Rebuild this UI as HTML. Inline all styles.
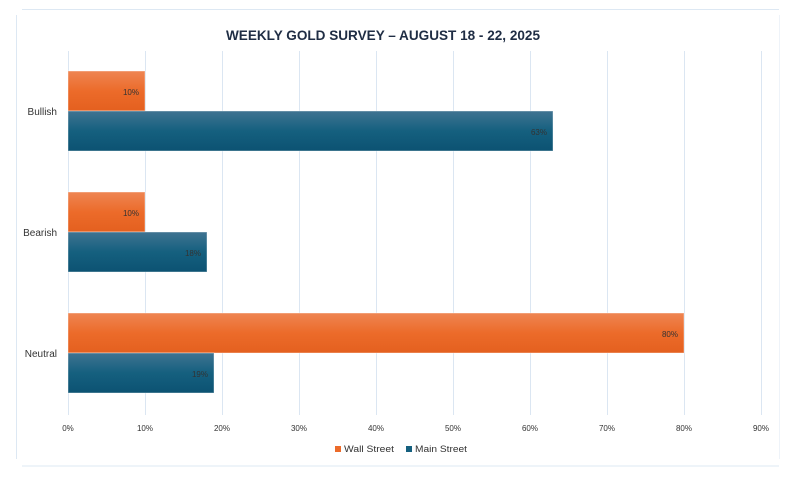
<!DOCTYPE html>
<html><head><meta charset="utf-8"><style>
html,body{margin:0;padding:0;background:#fff;}
svg{display:block;font-family:"Liberation Sans",sans-serif;}
</style></head><body>
<svg width="797" height="488" viewBox="0 0 797 488">
<defs>
<linearGradient id="o" x1="0" y1="0" x2="0" y2="1"><stop offset="0" stop-color="#ee8552"/><stop offset="0.5" stop-color="#ec6b2a"/><stop offset="1" stop-color="#e4601f"/></linearGradient>
<linearGradient id="b" x1="0" y1="0" x2="0" y2="1"><stop offset="0" stop-color="#3f7391"/><stop offset="0.5" stop-color="#15607f"/><stop offset="1" stop-color="#0c5272"/></linearGradient>
</defs>
<line x1="22" y1="9.5" x2="779" y2="9.5" stroke="#dde8f3"/>
<line x1="16.5" y1="15" x2="16.5" y2="459" stroke="#dde8f3"/>
<line x1="22" y1="466" x2="779" y2="466" stroke="#dde8f3"/>
<line x1="779.5" y1="15" x2="779.5" y2="459" stroke="#eef3f9"/>
<text x="226" y="40" font-size="14" font-weight="bold" fill="#1f2d44" textLength="314" lengthAdjust="spacingAndGlyphs">WEEKLY GOLD SURVEY – AUGUST 18  - 22, 2025</text>
<g stroke="#dbe6f2" stroke-width="1">
<line x1="68.5" y1="51" x2="68.5" y2="415"/><line x1="145.5" y1="51" x2="145.5" y2="415"/><line x1="222.5" y1="51" x2="222.5" y2="415"/><line x1="299.5" y1="51" x2="299.5" y2="415"/><line x1="376.5" y1="51" x2="376.5" y2="415"/><line x1="453.5" y1="51" x2="453.5" y2="415"/><line x1="530.5" y1="51" x2="530.5" y2="415"/><line x1="607.5" y1="51" x2="607.5" y2="415"/><line x1="684.5" y1="51" x2="684.5" y2="415"/><line x1="761.5" y1="51" x2="761.5" y2="415"/>
</g>
<g stroke="#ffffff" stroke-opacity="0.4" stroke-width="1">
<rect x="68" y="71" width="77" height="40" fill="url(#o)"/>
<rect x="68" y="111" width="485" height="40" fill="url(#b)"/>
<rect x="68" y="192" width="77" height="40" fill="url(#o)"/>
<rect x="68" y="232" width="139" height="40" fill="url(#b)"/>
<rect x="68" y="313" width="616" height="40" fill="url(#o)"/>
<rect x="68" y="353" width="146" height="40" fill="url(#b)"/>
</g>
<g font-size="8" fill="#333" text-anchor="end">
<text x="139" y="95">10%</text><text x="547" y="135">63%</text>
<text x="139" y="216">10%</text><text x="201" y="256">18%</text>
<text x="678" y="337">80%</text><text x="208" y="377">19%</text>
</g>
<g font-size="10" fill="#333" text-anchor="end">
<text x="57" y="115">Bullish</text><text x="57" y="236">Bearish</text><text x="57" y="357">Neutral</text>
</g>
<g font-size="8" fill="#333" text-anchor="middle">
<text x="68" y="431">0%</text><text x="145" y="431">10%</text><text x="222" y="431">20%</text><text x="299" y="431">30%</text><text x="376" y="431">40%</text><text x="453" y="431">50%</text><text x="530" y="431">60%</text><text x="607" y="431">70%</text><text x="684" y="431">80%</text><text x="761" y="431">90%</text>
</g>
<rect x="335" y="446" width="6" height="6" fill="#ec6b2a"/>
<text x="344" y="452" font-size="9" fill="#333" textLength="50" lengthAdjust="spacingAndGlyphs">Wall Street</text>
<rect x="406" y="446" width="6" height="6" fill="#15607f"/>
<text x="415" y="452" font-size="9" fill="#333" textLength="52" lengthAdjust="spacingAndGlyphs">Main Street</text>
</svg>
</body></html>
